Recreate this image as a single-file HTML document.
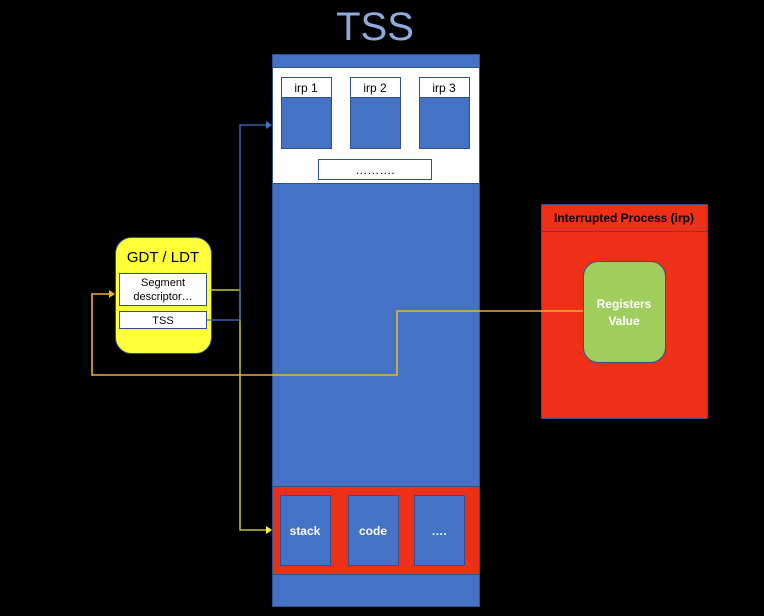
<!DOCTYPE html>
<html><head><style>html,body{margin:0;padding:0;background:#000}svg{display:block}text{font-family:"Liberation Sans",sans-serif}</style></head>
<body>
<svg width="764" height="616" viewBox="0 0 764 616" xmlns="http://www.w3.org/2000/svg">
<rect width="764" height="616" fill="#000"/>
<text x="375" y="40" text-anchor="middle" font-size="40" fill="#8faadc">TSS</text>
<!-- TSS column -->
<rect x="272.5" y="54.5" width="207" height="552" fill="#4472c4" stroke="#2f528f"/>
<rect x="272.5" y="67.5" width="207" height="116" fill="#fff" stroke="#2f528f"/>
<g stroke="#2f528f" fill="#4472c4">
<rect x="281.5" y="77.5" width="50" height="71"/><rect x="350.5" y="77.5" width="50" height="71"/><rect x="419.5" y="77.5" width="50" height="71"/>
</g>
<g stroke="#2f528f" fill="#fff">
<rect x="281.5" y="77.5" width="50" height="20"/><rect x="350.5" y="77.5" width="50" height="20"/><rect x="419.5" y="77.5" width="50" height="20"/>
<rect x="318.5" y="159.5" width="113" height="20"/>
</g>
<g font-size="12" text-anchor="middle" fill="#000">
<text x="306" y="92">irp 1</text><text x="375" y="92">irp 2</text><text x="444" y="92">irp 3</text>
<text x="375" y="174">……….</text>
</g>
<rect x="272.5" y="486.5" width="207" height="88" fill="#ee3019" stroke="#2f528f"/>
<g stroke="#2f528f" fill="#4472c4">
<rect x="280.5" y="495.5" width="50" height="70"/><rect x="348.5" y="495.5" width="50" height="70"/><rect x="414.5" y="495.5" width="50" height="70"/>
</g>
<g font-size="12" font-weight="bold" text-anchor="middle" fill="#fff">
<text x="305" y="535">stack</text><text x="373" y="535">code</text><text x="439" y="535">….</text>
</g>
<!-- GDT -->
<rect x="115.5" y="237.5" width="96" height="116" rx="16" fill="#ffff3a" stroke="#2f528f"/>
<text x="163" y="262" text-anchor="middle" font-size="15" fill="#000">GDT / LDT</text>
<rect x="119.5" y="273.5" width="87" height="32" fill="#fff" stroke="#2f528f"/>
<rect x="119.5" y="311.5" width="87" height="17" fill="#fff" stroke="#2f528f"/>
<g font-size="11" text-anchor="middle" fill="#000">
<text x="163" y="286">Segment</text><text x="163" y="300">descriptor…</text><text x="163" y="324">TSS</text>
</g>
<!-- irp -->
<rect x="541.5" y="204.5" width="166" height="214" fill="#ee3019" stroke="#2f528f"/>
<line x1="541.5" y1="231.5" x2="707.5" y2="231.5" stroke="#2f528f"/>
<text x="624" y="222" text-anchor="middle" font-size="12" font-weight="bold" fill="#000">Interrupted Process (irp)</text>
<rect x="583.5" y="261.5" width="82" height="101" rx="15" fill="#a1cd5f" stroke="#2f528f"/>
<g font-size="12" font-weight="bold" text-anchor="middle" fill="#fff"><text x="624" y="308">Registers</text><text x="624" y="325">Value</text></g>
<!-- connectors -->
<polyline points="207,290 240,290 240,530 266,530" fill="none" stroke="#e6e63a" stroke-width="1.3"/>
<polygon points="266,526 272,530 266,534" fill="#ffff3a"/>
<polyline points="207,320 240,320 240,125 266,125" fill="none" stroke="#4472c4" stroke-width="1.3"/>
<polygon points="266,121 272,125 266,129" fill="#4472c4"/>
<polyline points="583,311 397,311 397,375 92,375 92,294 109,294" fill="none" stroke="#f0b030" stroke-width="1.6"/>
<polygon points="109,290 115,294 109,298" fill="#f0b030"/>
</svg>
</body></html>
